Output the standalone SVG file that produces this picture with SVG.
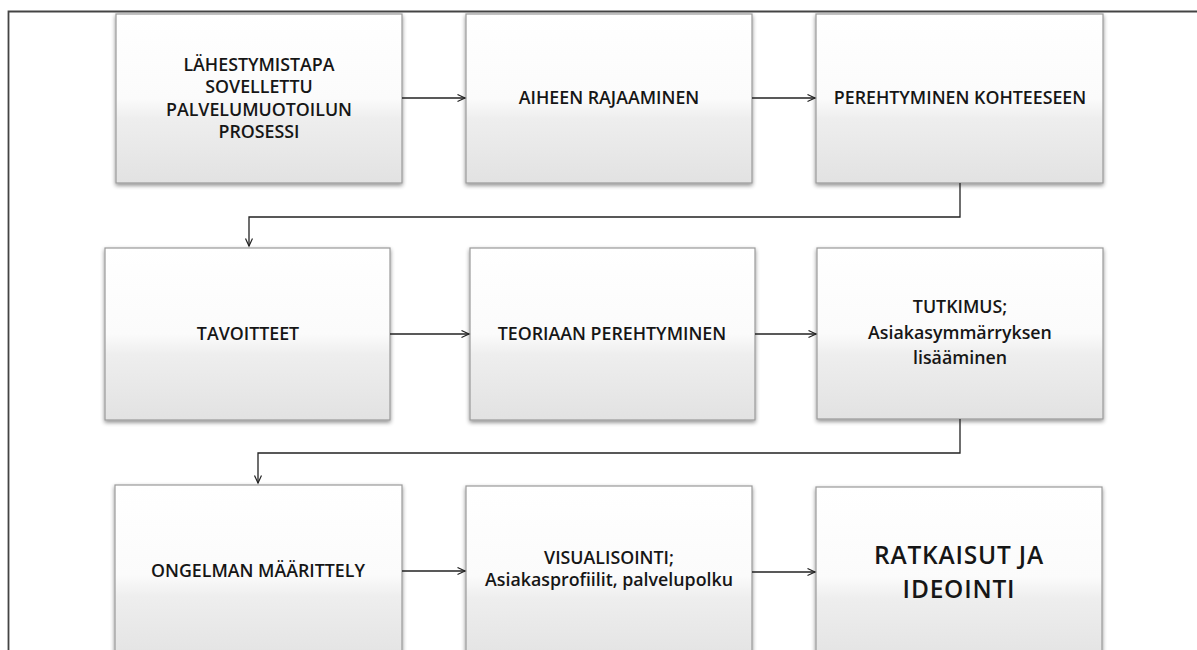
<svg xmlns="http://www.w3.org/2000/svg" width="1197" height="650" viewBox="0 0 1197 650">
<defs>
<linearGradient id="g" x1="0" y1="0" x2="0" y2="1">
<stop offset="0" stop-color="#ffffff"/>
<stop offset="0.5" stop-color="#fbfbfb"/>
<stop offset="0.62" stop-color="#eeeeee"/>
<stop offset="1" stop-color="#e2e2e2"/>
</linearGradient>
<filter id="sh" x="-5%" y="-5%" width="110%" height="115%">
<feGaussianBlur in="SourceAlpha" stdDeviation="2"/>
<feOffset dx="0" dy="1.5"/>
<feComponentTransfer><feFuncA type="linear" slope="0.45"/></feComponentTransfer>
<feMerge><feMergeNode/><feMergeNode in="SourceGraphic"/></feMerge>
</filter>
<marker id="ar" markerWidth="10" markerHeight="10" refX="8" refY="4" orient="auto" markerUnits="userSpaceOnUse">
<path d="M0.5,0.5 L8,4 L0.5,7.5" fill="none" stroke="#222" stroke-width="1.2"/>
</marker>
</defs>
<style>
.box{fill:url(#g);stroke:#9a9a9a;stroke-width:1.2;filter:url(#sh)}
.t{font-family:"Open Sans","Liberation Sans",sans-serif;font-size:17.8px;font-weight:600;fill:#161616;text-anchor:middle}
.big{font-size:24.5px;font-weight:600;letter-spacing:0.8px}
.c{fill:none;stroke:#222;stroke-width:1.3}
</style>
<rect width="1197" height="650" fill="#ffffff"/>
<path d="M8.5,650 L8.5,11.5 L1197,11.5" fill="none" stroke="#444" stroke-width="1.8"/>

<g id="n1"><rect class="box" x="116" y="14" width="286" height="169"/>
<text class="t" x="259" y="71">LÄHESTYMISTAPA</text>
<text class="t" x="259" y="93">SOVELLETTU</text>
<text class="t" x="259" y="116">PALVELUMUOTOILUN</text>
<text class="t" x="259" y="138">PROSESSI</text></g>
<g id="n2"><rect class="box" x="466" y="14" width="286" height="169"/>
<text class="t" x="609" y="104">AIHEEN RAJAAMINEN</text></g>
<g id="n3"><rect class="box" x="816" y="14" width="287" height="169"/>
<text class="t" x="960" y="104">PEREHTYMINEN KOHTEESEEN</text></g>

<g id="n4"><rect class="box" x="105" y="248" width="285" height="172"/>
<text class="t" x="248" y="340">TAVOITTEET</text></g>
<g id="n5"><rect class="box" x="470" y="248" width="285" height="172"/>
<text class="t" x="612" y="340">TEORIAAN PEREHTYMINEN</text></g>
<g id="n6"><rect class="box" x="817" y="248" width="286" height="171"/>
<text class="t" x="960" y="313">TUTKIMUS;</text>
<text class="t" x="960" y="339">Asiakasymmärryksen</text>
<text class="t" x="960" y="364">lisääminen</text></g>

<g id="n7"><rect class="box" x="115" y="485" width="287" height="180"/>
<text class="t" x="258" y="577">ONGELMAN MÄÄRITTELY</text></g>
<g id="n8"><rect class="box" x="466" y="486" width="286" height="180"/>
<text class="t" x="609" y="564">VISUALISOINTI;</text>
<text class="t" x="609" y="586">Asiakasprofiilit, palvelupolku</text></g>
<g id="n9"><rect class="box" x="816" y="487" width="286" height="180"/>
<text class="t big" x="959" y="564">RATKAISUT JA</text>
<text class="t big" x="959" y="598">IDEOINTI</text></g>

<g id="connectors">
<path class="c" d="M402,98 L465,98" marker-end="url(#ar)"/>
<path class="c" d="M752,98 L815,98" marker-end="url(#ar)"/>
<path class="c" d="M960,183 L960,217 L249,217 L249,246" marker-end="url(#ar)"/>
<path class="c" d="M390,334 L469,334" marker-end="url(#ar)"/>
<path class="c" d="M755,334 L816,334" marker-end="url(#ar)"/>
<path class="c" d="M960,419 L960,453 L258,453 L258,483" marker-end="url(#ar)"/>
<path class="c" d="M402,571 L465,571" marker-end="url(#ar)"/>
<path class="c" d="M752,572 L815,572" marker-end="url(#ar)"/>
</g>
</svg>
